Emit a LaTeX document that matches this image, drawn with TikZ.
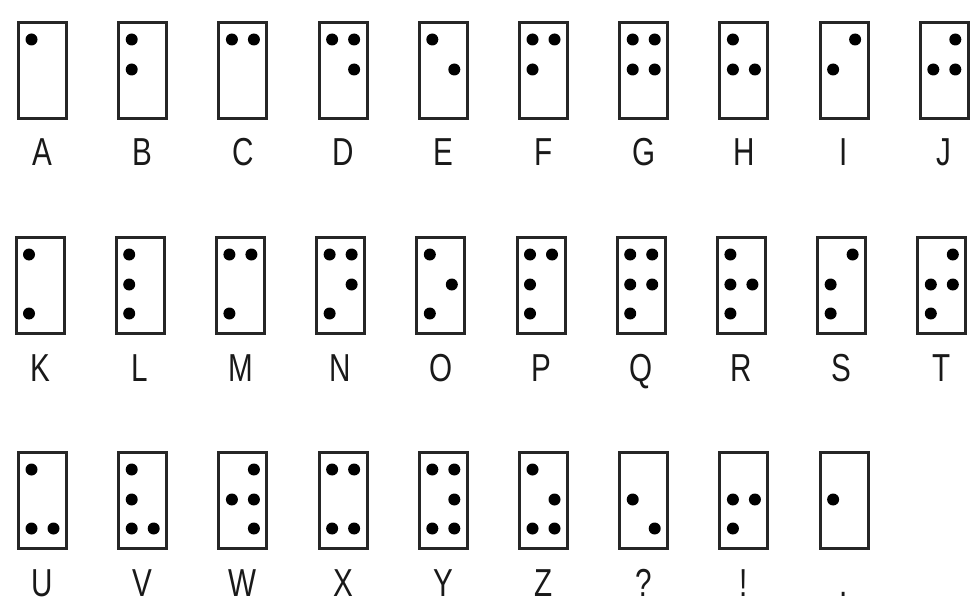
\documentclass[tikz,border=0pt]{standalone}
\usepackage{fontspec}
\setmainfont{Liberation Sans}
\begin{document}
\begin{tikzpicture}[x=1pt,y=1pt,
  cell/.style={draw=black!85, line width=3pt, minimum width=48pt, minimum height=96pt, inner sep=0pt},
  brdot/.style={fill=black, circle, inner sep=0pt, minimum size=12pt},
  lbl/.style={anchor=base, inner sep=0pt, font=\fontsize{39}{39}\selectfont, text=black!90}]
\useasboundingbox[fill=white] (0,0) rectangle (971,-604);
\foreach \nm/\lab/\c/\r/\dl in {
  A/A/0/0/{1}, B/B/1/0/{1,2}, C/C/2/0/{1,4}, D/D/3/0/{1,4,5}, E/E/4/0/{1,5},
  F/F/5/0/{1,2,4}, G/G/6/0/{1,2,4,5}, H/H/7/0/{1,2,5}, I/I/8/0/{2,4}, J/J/9/0/{2,4,5},
  K/K/0/1/{1,3}, L/L/1/1/{1,2,3}, M/M/2/1/{1,3,4}, N/N/3/1/{1,3,4,5}, O/O/4/1/{1,3,5},
  P/P/5/1/{1,2,3,4}, Q/Q/6/1/{1,2,3,4,5}, R/R/7/1/{1,2,3,5}, S/S/8/1/{2,3,4}, T/T/9/1/{2,3,4,5},
  U/U/0/2/{1,3,6}, V/V/1/2/{1,2,3,6}, W/W/2/2/{2,4,5,6}, X/X/3/2/{1,3,4,6}, Y/Y/4/2/{1,3,4,5,6},
  Z/Z/5/2/{1,3,5,6}, qm/?/6/2/{2,6}, ex/!/7/2/{2,3,5}, pd/./8/2/{2}} {
  \pgfmathsetmacro\cx{42.5+100.2*\c-(\r==1 ? 2.5 : 0)}
  \pgfmathsetmacro\cy{-(70.5+215*\r)}
  \pgfmathsetmacro\by{-(166+215*\r)}
  \node[cell] (box-\nm) at (\cx,\cy) {};
  \node[lbl] (lbl-\nm) at (\cx,\by) {\scalebox{0.76}[1]{\lab}};
  \foreach \k in \dl {
    \pgfmathsetmacro\dx{\k>3 ? 11 : -11}
    \pgfmathsetmacro\dy{mod(\k-1,3)==0 ? 31 : (mod(\k-1,3)==1 ? 1 : -28)}
    \node[brdot] (dot-\nm-\k) at (\cx+\dx,\cy+\dy) {};
  }
}
\end{tikzpicture}
\end{document}
